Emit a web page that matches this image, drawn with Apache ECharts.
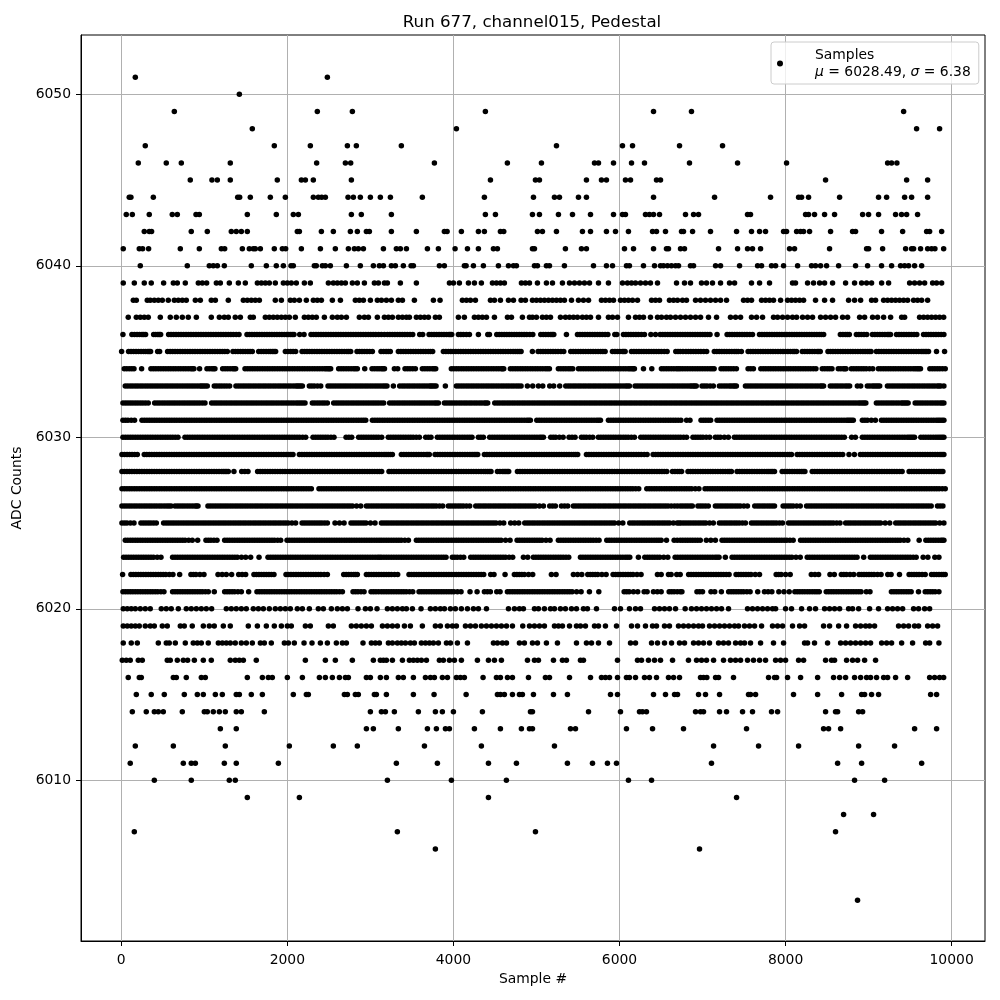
<!DOCTYPE html>
<html><head><meta charset="utf-8">
<script src="https://cdn.jsdelivr.net/npm/echarts@6/dist/echarts.min.js"></script>
<style>html,body{margin:0;padding:0;background:#fff}#c{width:1000px;height:1000px}</style>
</head><body><div id="c"></div>
<script>
const tickX = [0,2000,4000,6000,8000,10000];
const tickY = [6010,6020,6030,6040,6050];
const a6051=[169,2482];
const a6050=[1422];
const a6049=[639,2361,2783,4385,6410,6867,9422];
const a6048=[1578,4036,9578,9855];
const a6047=[289,1843,2277,2723,2831,3373,5241,6036,6157,6723,7241];
const a6046=[205,542,723,1313,2353,2699,2763,3771,4650,5060,5699,5747,5928,6145,6301,6843,7422,8012,9229,9277,9341];
const a6045=[831,1092,1157,1313,1879,2169,2217,2313,2771,4446,4988,5036,5602,5783,5843,6072,6133,6446,6494,8482,9458,9711];
const a6044=[96,116,386,1402,1426,1554,1795,1976,2313,2373,2414,2458,2731,2795,2879,3000,3120,3241,3626,4373,4964,5217,5277,5506,5602,6410,7145,7819,8157,8193,8277,8651,9120,9217,9434,9518,9711];
const a6043=[60,133,337,614,675,900,940,1518,1867,2072,2133,2771,2891,3253,4385,4506,4952,5036,5265,5434,5651,5928,6036,6072,6313,6361,6410,6482,6795,6892,6952,7542,7578,8241,8277,8349,8470,8590,8928,9000,9120,9325,9397,9458,9590];
const a6042=[277,337,365,843,1036,1325,1385,1446,1518,2120,2145,2410,2554,2759,2843,2952,2988,3253,3554,3891,3924,4096,4301,4373,4566,4606,5012,5072,5241,5554,5651,5843,5952,6108,6398,6446,6554,6747,6771,6880,7096,7410,7590,7687,7759,7976,8012,8133,8181,8217,8289,8542,8807,8843,9156,9410,9699,9735,9880];
const a6041=[24,217,257,329,711,940,1205,1245,1458,1542,1590,1614,1675,1843,1940,1980,2169,2398,2578,2735,2807,2855,2916,3157,3313,3361,3434,3687,3819,4020,4169,4301,4482,4530,4952,4976,5349,5542,5602,6060,6169,6410,6566,6590,6735,6783,7193,7422,7542,7602,7699,8048,8108,8530,8976,9000,9169,9446,9518,9542,9626,9711,9759,9799,9904];
const a6040=[229,795,1060,1108,1157,1241,1566,1747,1867,1952,2044,2072,2325,2349,2422,2458,2518,2711,2879,3036,3108,3157,3253,3301,3397,3490,3518,3831,3891,4132,4153,4241,4361,4542,4663,4723,4759,4976,5012,5120,5157,5337,5687,5843,5916,6084,6120,6289,6422,6494,6530,6578,6626,6675,6711,6855,6892,7157,7217,7446,7663,7711,7831,7880,7976,8145,8313,8361,8422,8494,8639,8843,8988,9156,9277,9385,9434,9482,9554,9639];
const a6039=[24,157,277,361,510,627,675,771,928,976,1028,1145,1193,1301,1410,1494,1639,1687,1735,1783,1855,1952,2000,2048,2108,2205,2277,2494,2554,2602,2651,2699,2783,2843,2928,3048,3096,3169,3205,3361,3554,3952,4000,4072,4181,4253,4337,4470,4518,4566,4614,4819,4867,4916,5012,5120,5193,5313,5398,5458,5518,5578,5639,5747,5867,6036,6096,6145,6193,6253,6313,6373,6458,6687,6783,6855,6988,7048,7120,7217,7325,7386,7590,7687,7807,8084,8120,8265,8337,8410,8470,8566,8723,8831,8916,8976,9036,9157,9241,9494,9554,9614,9675,9771,9819,9880];
const a6038=[145,181,313,349,398,446,494,566,639,687,735,783,892,952,1084,1133,1289,1470,1518,1566,1614,1663,1855,1928,2036,2084,2145,2229,2313,2361,2410,2542,2639,2819,2867,2916,3000,3084,3133,3193,3253,3337,3386,3530,3759,3839,4108,4157,4205,4265,4446,4494,4566,4663,4723,4815,4867,4952,5000,5048,5096,5145,5193,5241,5289,5337,5422,5506,5566,5627,5783,5831,5880,5928,6012,6060,6108,6157,6217,6386,6434,6482,6602,6651,6699,6759,6807,6916,6976,7036,7096,7157,7217,7289,7494,7542,7590,7711,7759,7807,7855,7940,8024,8072,8120,8169,8217,8361,8470,8566,8759,8831,8904,9036,9084,9181,9229,9277,9325,9373,9422,9470,9542,9590,9639,9711];
const a6037=[84,181,229,277,325,470,590,663,735,807,904,1084,1181,1241,1289,1373,1434,1554,1590,1735,1783,1831,1879,1928,1976,2024,2096,2205,2253,2301,2349,2446,2542,2602,2651,2711,2867,2928,2976,3084,3169,3217,3265,3337,3386,3434,3470,3554,3602,3651,3699,3783,3831,4060,4132,4253,4301,4349,4398,4494,4651,4699,4831,4916,4952,5000,5072,5120,5169,5289,5349,5398,5446,5494,5554,5602,5651,5747,5867,5916,5976,6108,6193,6241,6289,6373,6458,6506,6566,6614,6675,6735,6795,6855,6916,6976,7072,7169,7337,7398,7458,7590,7651,7723,7855,7904,7964,8024,8084,8133,8205,8265,8325,8422,8482,8542,8602,8687,8747,8892,8952,9048,9108,9181,9265,9398,9434,9614,9663,9711,9759,9807,9855,9904];
const a6036=[20,128,159,190,220,250,271,293,390,415,440,457,474,570,600,630,660,690,720,750,780,810,840,870,900,930,960,990,1020,1050,1080,1110,1140,1170,1200,1230,1260,1290,1320,1350,1384,1418,1514,1544,1574,1604,1634,1664,1694,1724,1754,1784,1814,1844,1874,1904,1934,1964,1994,2017,2040,2060,2080,2149,2201,2285,2315,2345,2375,2405,2435,2465,2495,2525,2555,2585,2615,2645,2675,2705,2735,2765,2795,2825,2855,2885,2915,2945,2975,3005,3035,3065,3099,3133,3169,3205,3235,3265,3295,3325,3355,3385,3415,3445,3477,3510,3594,3630,3707,3737,3767,3797,3827,3857,3887,3917,3947,3963,3980,4060,4090,4120,4156,4193,4301,4414,4434,4522,4552,4582,4612,4642,4672,4702,4732,4762,4792,4822,4852,4882,4919,4956,5052,5082,5112,5142,5172,5190,5209,5361,5494,5524,5554,5584,5614,5644,5674,5704,5734,5764,5794,5827,5860,5944,5968,6048,6078,6108,6138,6168,6198,6228,6264,6301,6378,6434,6490,6520,6550,6580,6610,6640,6670,6700,6731,6761,6791,6821,6851,6881,6911,6941,6971,7001,7031,7060,7090,7175,7296,7326,7356,7386,7416,7446,7476,7506,7536,7569,7602,7686,7716,7746,7776,7806,7836,7866,7896,7926,7956,7986,8016,8046,8076,8106,8136,8166,8196,8226,8256,8286,8316,8346,8376,8406,8432,8459,8660,8690,8720,8744,8768,8853,8883,8913,8945,8978,9046,9076,9106,9136,9166,9196,9226,9245,9264,9336,9366,9396,9426,9456,9486,9516,9548,9581,9662,9692,9722,9752,9782,9812,9842,9874,9907];
const a6035=[4,88,118,148,178,208,238,268,294,320,336,353,438,462,558,588,618,648,678,708,738,768,798,828,858,888,918,948,978,1008,1038,1068,1098,1128,1158,1188,1218,1247,1277,1345,1375,1405,1435,1465,1495,1525,1551,1578,1655,1685,1715,1745,1775,1797,1820,1840,1859,1976,2008,2040,2070,2100,2177,2207,2237,2267,2297,2327,2357,2387,2417,2447,2477,2507,2537,2567,2597,2627,2657,2687,2717,2740,2763,2839,2869,2899,2929,2959,2991,3024,3128,3159,3190,3215,3240,3337,3367,3397,3427,3457,3487,3517,3547,3577,3607,3637,3667,3697,3723,3750,3879,3909,3939,3969,3999,4029,4059,4089,4119,4149,4179,4209,4239,4269,4299,4329,4359,4389,4419,4449,4479,4509,4539,4569,4599,4629,4659,4689,4719,4745,4770,4792,4815,4951,5020,5050,5080,5110,5140,5170,5200,5230,5260,5295,5329,5413,5443,5473,5503,5533,5563,5593,5623,5653,5683,5713,5743,5773,5800,5827,5915,5945,5975,6005,6035,6052,6068,6144,6174,6204,6234,6264,6294,6324,6354,6384,6414,6444,6474,6504,6539,6574,6678,6705,6731,6765,6800,6830,6860,6890,6920,6950,6980,7015,7050,7142,7172,7202,7232,7262,7292,7322,7352,7382,7406,7430,7468,7549,7579,7609,7639,7669,7699,7729,7759,7789,7819,7849,7879,7909,7939,7969,7999,8029,8059,8089,8110,8132,8201,8231,8261,8291,8321,8351,8381,8400,8418,8511,8541,8571,8601,8631,8661,8691,8721,8751,8781,8811,8841,8871,8901,8931,8958,8985,9008,9030,9094,9124,9154,9184,9214,9244,9274,9304,9334,9364,9394,9424,9454,9484,9514,9544,9574,9604,9634,9657,9680,9700,9722,9818,9915];
const a6034=[36,66,96,125,153,245,357,387,417,447,477,507,537,567,597,627,657,687,717,747,777,807,837,856,875,943,1032,1061,1090,1110,1128,1221,1251,1281,1311,1341,1360,1378,1490,1520,1550,1580,1610,1640,1670,1700,1730,1760,1790,1820,1850,1880,1910,1940,1970,2000,2030,2060,2090,2120,2150,2180,2210,2240,2270,2300,2330,2360,2390,2420,2450,2470,2490,2506,2522,2618,2648,2678,2708,2738,2768,2798,2820,2843,2932,3020,3050,3080,3106,3133,3151,3170,3289,3329,3417,3447,3477,3510,3542,3626,3656,3686,3716,3746,3767,3787,3975,4005,4035,4065,4095,4125,4155,4185,4215,4245,4275,4305,4335,4365,4395,4425,4455,4485,4515,4545,4575,4590,4606,4686,4716,4746,4776,4806,4836,4866,4896,4926,4956,4986,5016,5046,5076,5106,5131,5156,5264,5294,5324,5354,5384,5410,5437,5506,5536,5566,5596,5626,5656,5686,5716,5746,5776,5806,5836,5866,5896,5926,5956,5986,6016,6046,6076,6106,6128,6150,6165,6180,6289,6389,6505,6535,6565,6595,6625,6655,6685,6708,6731,6760,6790,6820,6850,6880,6910,6940,6970,7000,7030,7060,7090,7115,7140,7223,7253,7283,7313,7343,7375,7408,7549,7581,7613,7702,7732,7762,7792,7822,7852,7882,7912,7942,7972,8002,8032,8062,8092,8122,8152,8182,8212,8242,8272,8302,8334,8366,8442,8472,8502,8530,8559,8635,8665,8695,8712,8728,8792,8822,8852,8882,8912,8942,8972,9011,9050,9118,9148,9178,9208,9238,9268,9298,9328,9358,9388,9418,9448,9478,9508,9538,9562,9585,9605,9625,9738,9768,9798,9828,9858,9890,9923];
const a6033=[48,78,108,138,168,198,228,258,288,318,348,378,408,438,468,498,528,558,588,618,648,678,708,738,768,798,828,858,888,918,948,969,990,1013,1036,1120,1150,1180,1210,1240,1272,1305,1381,1411,1441,1471,1501,1531,1561,1591,1621,1651,1681,1711,1741,1771,1801,1831,1861,1891,1921,1951,1981,2011,2041,2071,2101,2120,2140,2160,2181,2265,2295,2325,2363,2402,2490,2520,2550,2580,2610,2640,2670,2700,2730,2760,2790,2820,2850,2880,2910,2940,2970,3000,3030,3060,3090,3120,3150,3175,3200,3277,3353,3383,3413,3443,3473,3503,3533,3563,3593,3623,3653,3683,3713,3731,3750,3770,3791,3903,4036,4066,4096,4126,4156,4186,4216,4246,4276,4306,4336,4366,4396,4426,4456,4486,4516,4546,4576,4606,4636,4666,4696,4726,4756,4785,4815,4891,4955,5024,5076,5160,5208,5280,5353,5383,5413,5443,5473,5503,5533,5563,5593,5623,5653,5683,5713,5743,5773,5803,5833,5863,5893,5923,5953,5983,6013,6043,6073,6096,6120,6188,6218,6248,6278,6308,6338,6368,6398,6428,6458,6488,6518,6548,6578,6608,6638,6668,6698,6728,6758,6788,6818,6848,6869,6890,6907,6925,6994,7024,7054,7092,7130,7203,7233,7263,7293,7323,7346,7370,7389,7408,7517,7547,7577,7607,7637,7667,7697,7727,7757,7787,7817,7847,7877,7907,7937,7967,7997,8027,8057,8087,8117,8147,8177,8207,8237,8267,8297,8327,8357,8387,8417,8437,8458,8539,8569,8599,8629,8659,8689,8719,8745,8772,8865,8905,8985,9015,9045,9067,9090,9112,9134,9227,9257,9287,9317,9347,9377,9407,9437,9467,9497,9527,9557,9587,9617,9647,9677,9707,9737,9767,9797,9827,9848,9870,9907];
const a6032=[20,50,80,110,140,170,200,230,260,292,325,402,432,462,492,522,552,582,612,642,672,702,732,762,792,822,852,882,912,942,975,1008,1088,1118,1148,1178,1208,1238,1268,1298,1328,1358,1388,1418,1448,1478,1508,1538,1568,1598,1628,1658,1688,1718,1748,1778,1808,1838,1868,1898,1928,1958,1988,2018,2048,2078,2108,2134,2160,2186,2213,2301,2331,2361,2391,2421,2451,2482,2558,2588,2618,2648,2678,2708,2738,2768,2798,2828,2858,2888,2918,2948,2978,3008,3038,3068,3098,3129,3160,3232,3262,3292,3322,3352,3382,3412,3442,3472,3502,3532,3562,3592,3622,3652,3682,3712,3742,3772,3795,3819,3891,3921,3951,3981,4011,4041,4071,4101,4131,4161,4191,4221,4251,4281,4311,4341,4371,4392,4413,4498,4528,4558,4588,4618,4648,4678,4708,4738,4768,4798,4828,4858,4888,4918,4948,4978,5008,5038,5068,5098,5128,5158,5188,5218,5248,5278,5308,5338,5368,5398,5428,5458,5488,5518,5548,5578,5608,5638,5668,5698,5728,5758,5788,5818,5848,5878,5908,5938,5968,5998,6028,6058,6088,6118,6148,6178,6208,6238,6268,6298,6328,6358,6388,6418,6448,6478,6508,6538,6568,6598,6628,6658,6688,6718,6748,6778,6808,6838,6868,6898,6928,6958,6988,7018,7048,7078,7108,7138,7168,7198,7228,7258,7288,7318,7348,7378,7408,7438,7468,7498,7528,7558,7588,7618,7648,7678,7708,7738,7768,7798,7828,7858,7888,7918,7948,7978,8008,8038,8068,8098,8128,8158,8188,8218,8248,8278,8308,8338,8368,8398,8428,8458,8488,8518,8548,8578,8608,8638,8668,8698,8728,8758,8788,8818,8848,8878,8901,8925,8946,8967,9094,9124,9154,9184,9214,9244,9274,9304,9334,9364,9394,9414,9435,9455,9476,9561,9591,9621,9651,9681,9711,9741,9771,9801,9831,9861,9884,9907];
const a6031=[20,50,80,120,160,249,279,309,339,369,399,429,459,489,519,549,579,609,639,669,699,729,759,789,819,849,879,909,939,969,999,1029,1059,1089,1119,1149,1179,1209,1239,1269,1299,1329,1359,1389,1419,1449,1479,1509,1539,1569,1599,1629,1659,1689,1719,1749,1779,1809,1839,1869,1899,1929,1959,1989,2019,2049,2079,2109,2139,2169,2199,2229,2259,2289,2319,2349,2379,2409,2439,2469,2499,2529,2559,2589,2619,2649,2679,2709,2739,2769,2799,2829,2859,2889,2917,2944,3024,3054,3084,3114,3144,3174,3204,3234,3264,3294,3324,3354,3384,3414,3444,3474,3504,3534,3564,3594,3624,3654,3684,3714,3744,3774,3804,3834,3864,3894,3924,3954,3984,4014,4044,4074,4104,4134,4164,4194,4224,4254,4284,4314,4344,4374,4404,4434,4464,4494,4524,4554,4584,4614,4644,4674,4704,4734,4764,4794,4824,4854,4884,4906,4927,5004,5034,5064,5094,5124,5154,5184,5214,5244,5274,5304,5334,5364,5394,5424,5454,5484,5514,5544,5574,5604,5634,5664,5694,5724,5748,5771,5867,5897,5927,5957,5987,6017,6047,6077,6107,6137,6167,6197,6227,6257,6287,6317,6347,6377,6407,6437,6467,6497,6527,6557,6587,6617,6647,6677,6707,6740,6808,6849,6982,7011,7040,7069,7098,7175,7205,7235,7265,7295,7325,7355,7385,7415,7445,7475,7505,7535,7565,7595,7625,7655,7685,7715,7745,7775,7805,7835,7865,7895,7925,7955,7985,8015,8045,8075,8105,8135,8165,8195,8225,8255,8285,8315,8345,8375,8405,8435,8465,8495,8525,8555,8585,8615,8645,8675,8705,8735,8755,8775,8795,8816,8925,8955,8985,9033,9082,9155,9185,9215,9245,9275,9305,9335,9365,9395,9425,9455,9485,9515,9545,9575,9605,9635,9665,9695,9725,9755,9785,9815,9838,9860,9884,9907];
const a6030=[20,50,80,110,140,170,200,230,260,290,320,350,380,410,440,470,500,530,560,590,620,651,683,767,797,827,857,887,917,947,977,1007,1037,1067,1097,1127,1157,1187,1217,1247,1277,1307,1337,1367,1397,1427,1457,1487,1517,1547,1577,1607,1637,1667,1697,1727,1757,1787,1817,1847,1877,1907,1937,1967,1997,2027,2057,2087,2117,2147,2184,2221,2309,2339,2369,2399,2429,2459,2489,2525,2562,2707,2741,2775,2859,2889,2919,2949,2979,3009,3039,3069,3099,3136,3216,3246,3276,3306,3336,3366,3396,3426,3456,3486,3516,3553,3590,3666,3698,3730,3807,3837,3867,3897,3927,3957,3987,4017,4047,4077,4107,4137,4167,4196,4224,4301,4331,4361,4437,4467,4497,4527,4557,4587,4617,4647,4677,4707,4737,4767,4797,4827,4857,4887,4917,4947,4977,5007,5037,5060,5084,5172,5202,5232,5276,5321,5393,5429,5465,5542,5572,5602,5640,5678,5746,5776,5806,5836,5866,5896,5926,5956,5986,6016,6046,6076,6106,6143,6180,6256,6286,6316,6346,6376,6406,6436,6466,6496,6526,6556,6586,6616,6646,6676,6706,6736,6772,6808,6885,6915,6945,6975,7005,7045,7086,7155,7185,7215,7263,7311,7384,7414,7444,7474,7504,7534,7564,7594,7624,7654,7684,7714,7744,7774,7804,7834,7864,7894,7924,7954,7984,8014,8044,8074,8104,8134,8164,8194,8224,8254,8284,8314,8344,8374,8404,8434,8464,8494,8524,8554,8584,8614,8644,8676,8708,8796,8841,8925,8955,8985,9015,9045,9075,9105,9135,9165,9195,9225,9255,9285,9315,9345,9375,9405,9435,9465,9488,9510,9532,9553,9629,9659,9689,9719,9749,9779,9809,9835,9860,9884,9907];
const a6029=[8,39,70,100,130,161,193,277,307,337,367,397,427,457,487,517,547,577,607,637,667,697,727,757,787,817,847,877,907,937,967,997,1027,1057,1087,1117,1147,1177,1207,1237,1267,1297,1327,1357,1387,1417,1447,1477,1507,1537,1567,1597,1627,1657,1687,1717,1747,1777,1807,1837,1867,1897,1927,1957,1987,2017,2043,2068,2145,2175,2205,2235,2265,2295,2325,2355,2385,2415,2445,2475,2505,2535,2565,2595,2625,2655,2685,2715,2745,2775,2805,2835,2865,2895,2925,2955,2985,3015,3045,3075,3105,3135,3165,3190,3215,3240,3265,3373,3403,3433,3463,3493,3523,3553,3583,3613,3643,3673,3692,3710,3779,3809,3839,3869,3899,3929,3959,3989,4019,4049,4079,4109,4139,4169,4199,4225,4250,4272,4293,4373,4403,4433,4463,4493,4523,4553,4583,4613,4643,4673,4703,4733,4763,4793,4823,4853,4883,4913,4943,4973,5003,5033,5063,5093,5123,5153,5183,5213,5243,5273,5303,5333,5363,5393,5422,5450,5474,5497,5602,5632,5662,5692,5722,5752,5782,5812,5842,5872,5902,5932,5962,5992,6022,6052,6082,6112,6142,6172,6202,6232,6262,6298,6333,6405,6435,6465,6495,6525,6555,6585,6615,6645,6675,6705,6735,6765,6795,6825,6855,6885,6915,6945,6975,7005,7035,7065,7095,7125,7155,7185,7215,7245,7275,7305,7335,7365,7395,7425,7455,7485,7515,7545,7575,7605,7635,7665,7695,7725,7755,7785,7815,7845,7875,7905,7935,7965,7995,8025,8049,8072,8140,8170,8200,8230,8260,8290,8320,8350,8380,8410,8440,8470,8500,8530,8560,8590,8620,8654,8688,8764,8829,8901,8931,8961,8991,9021,9051,9081,9111,9141,9171,9201,9231,9261,9291,9321,9351,9381,9411,9441,9471,9501,9531,9561,9591,9621,9651,9681,9711,9741,9771,9801,9831,9861,9884,9907];
const a6028=[8,38,68,98,128,158,188,218,248,278,308,338,368,398,428,458,488,518,548,578,608,638,668,698,728,758,788,818,848,878,908,938,968,998,1028,1058,1088,1118,1148,1178,1208,1229,1250,1270,1289,1357,1450,1488,1526,1642,1672,1702,1732,1762,1792,1822,1852,1882,1912,1942,1972,2002,2032,2062,2092,2122,2152,2182,2212,2242,2272,2302,2332,2362,2392,2422,2452,2482,2512,2542,2572,2602,2632,2662,2692,2722,2752,2782,2812,2842,2872,2902,2932,2962,2992,3022,3052,3082,3109,3136,3224,3254,3284,3314,3344,3374,3404,3434,3464,3494,3524,3554,3584,3614,3644,3674,3704,3734,3764,3794,3824,3854,3884,3914,3944,3974,4004,4034,4064,4094,4124,4154,4184,4214,4244,4274,4304,4334,4364,4387,4410,4432,4453,4530,4560,4590,4610,4630,4648,4666,4771,4801,4831,4861,4891,4921,4951,4981,5011,5041,5071,5101,5131,5161,5191,5221,5251,5281,5311,5341,5371,5401,5431,5461,5491,5521,5551,5581,5611,5641,5671,5701,5731,5761,5791,5821,5851,5881,5911,5941,5971,6001,6031,6061,6091,6121,6151,6181,6211,6241,6271,6301,6331,6361,6391,6421,6451,6481,6511,6540,6570,6638,6668,6698,6723,6748,6825,6855,6885,6915,6945,6975,7005,7035,7065,7095,7125,7155,7185,7215,7245,7275,7305,7327,7348,7416,7446,7476,7506,7536,7566,7596,7626,7656,7686,7716,7746,7776,7800,7825,7846,7867,7959,7989,8019,8049,8079,8109,8139,8165,8190,8212,8233,8321,8351,8381,8411,8441,8471,8501,8531,8561,8591,8621,8651,8681,8711,8741,8771,8801,8831,8861,8891,8921,8951,8981,9011,9041,9071,9101,9131,9161,9191,9221,9251,9281,9311,9341,9373,9404,9488,9518,9548,9578,9608,9638,9668,9698,9728,9758,9788,9818,9848,9872,9895];
const a6027=[8,38,68,98,128,158,188,218,248,278,308,338,368,398,428,458,488,518,548,578,608,638,668,698,728,758,788,818,848,878,908,938,968,998,1028,1058,1088,1118,1148,1178,1208,1238,1268,1298,1328,1358,1388,1418,1448,1478,1508,1538,1568,1598,1628,1658,1688,1718,1748,1778,1808,1838,1868,1898,1928,1958,1988,2018,2048,2078,2108,2138,2168,2198,2228,2259,2289,2381,2411,2441,2471,2501,2531,2561,2591,2621,2651,2681,2711,2741,2771,2801,2831,2861,2891,2921,2951,2981,3011,3041,3071,3101,3131,3161,3191,3221,3251,3281,3311,3341,3371,3401,3431,3461,3491,3521,3551,3581,3611,3641,3671,3701,3731,3761,3791,3821,3851,3881,3911,3941,3971,4001,4031,4061,4091,4121,4151,4181,4211,4241,4271,4301,4331,4361,4391,4421,4451,4481,4511,4541,4571,4601,4631,4661,4691,4721,4751,4781,4811,4841,4871,4901,4931,4961,4991,5021,5051,5081,5111,5141,5171,5201,5231,5261,5291,5321,5351,5381,5411,5441,5471,5501,5531,5561,5591,5621,5651,5681,5711,5741,5771,5801,5831,5861,5891,5921,5951,5981,6011,6041,6071,6101,6131,6161,6196,6232,6329,6359,6389,6419,6449,6479,6509,6539,6569,6599,6629,6659,6689,6719,6749,6779,6809,6839,6869,6913,6957,7030,7060,7090,7120,7150,7180,7210,7240,7270,7300,7330,7360,7390,7420,7450,7480,7510,7540,7570,7600,7630,7660,7690,7720,7750,7780,7810,7840,7870,7900,7930,7960,7990,8020,8050,8080,8110,8140,8170,8200,8230,8260,8290,8320,8350,8380,8410,8440,8470,8500,8530,8560,8590,8620,8650,8680,8710,8740,8770,8800,8830,8860,8890,8920,8950,8980,9010,9040,9070,9100,9130,9160,9190,9220,9250,9280,9310,9340,9370,9400,9430,9460,9490,9520,9550,9580,9610,9640,9670,9700,9730,9760,9790,9820,9850,9887,9923];
const a6026=[8,38,68,98,128,158,188,218,248,278,308,338,368,398,428,458,488,518,548,574,600,647,677,707,737,767,797,827,857,887,906,924,1044,1074,1104,1134,1164,1194,1224,1254,1284,1314,1344,1374,1404,1434,1464,1494,1524,1554,1584,1614,1644,1674,1704,1734,1764,1794,1824,1854,1884,1914,1944,1974,2004,2034,2064,2094,2124,2154,2184,2214,2244,2274,2304,2334,2364,2394,2424,2454,2484,2514,2544,2574,2604,2634,2664,2694,2724,2754,2784,2834,2884,2952,2982,3012,3042,3072,3102,3133,3163,3193,3223,3253,3283,3313,3343,3373,3403,3433,3463,3493,3523,3553,3583,3613,3643,3673,3703,3733,3763,3793,3832,3871,3939,3969,3999,4029,4059,4089,4119,4157,4196,4269,4299,4329,4359,4389,4419,4449,4479,4509,4539,4569,4599,4629,4659,4689,4719,4749,4779,4809,4839,4869,4899,4929,4959,4989,5036,5084,5160,5194,5228,5301,5339,5377,5445,5475,5505,5535,5565,5595,5625,5655,5685,5715,5745,5775,5805,5835,5865,5895,5925,5955,5985,6015,6045,6075,6105,6135,6165,6195,6225,6255,6285,6315,6345,6375,6405,6435,6465,6495,6525,6555,6585,6623,6662,6696,6731,6761,6791,6821,6851,6877,6945,6975,7005,7037,7070,7155,7185,7215,7245,7275,7305,7335,7365,7395,7425,7455,7498,7541,7629,7659,7689,7719,7749,7779,7809,7838,7867,7971,8001,8031,8061,8091,8134,8177,8253,8283,8313,8343,8373,8403,8433,8463,8493,8523,8553,8583,8613,8643,8673,8703,8733,8763,8793,8823,8853,8883,8913,8943,8973,9003,9033,9063,9093,9123,9153,9183,9213,9243,9273,9303,9333,9363,9393,9423,9453,9483,9513,9543,9573,9603,9633,9663,9693,9723,9754,9830,9862,9895];
const a6025=[8,38,68,110,153,237,267,297,327,357,390,422,510,540,570,600,630,660,690,720,750,780,810,840,870,900,930,960,990,1020,1050,1080,1110,1140,1170,1200,1230,1260,1290,1320,1350,1380,1410,1440,1470,1500,1530,1560,1590,1620,1650,1680,1710,1740,1770,1800,1830,1860,1890,1920,1950,1980,2010,2055,2100,2177,2207,2237,2267,2297,2327,2357,2387,2417,2450,2482,2574,2628,2683,2767,2797,2827,2857,2887,2917,2947,3001,3056,3133,3163,3193,3223,3253,3283,3313,3343,3373,3403,3433,3463,3493,3523,3553,3583,3613,3643,3673,3703,3733,3763,3793,3823,3853,3883,3913,3943,3973,4003,4033,4063,4093,4123,4153,4183,4213,4243,4273,4303,4333,4363,4393,4423,4453,4483,4513,4560,4606,4690,4738,4787,4859,4889,4919,4949,4979,5009,5039,5069,5099,5129,5159,5189,5219,5249,5279,5309,5339,5369,5399,5429,5459,5489,5519,5549,5579,5609,5639,5669,5699,5729,5759,5789,5819,5849,5879,5909,5939,5990,6040,6124,6154,6184,6214,6244,6274,6304,6334,6364,6394,6424,6454,6484,6514,6544,6574,6604,6649,6694,6717,6740,6770,6800,6830,6860,6890,6920,6950,6980,7010,7040,7085,7130,7203,7233,7263,7293,7323,7353,7383,7413,7443,7480,7517,7589,7619,7649,7679,7709,7739,7769,7799,7829,7859,7889,7926,7963,8036,8066,8096,8126,8156,8186,8216,8246,8276,8306,8336,8366,8396,8426,8456,8486,8516,8546,8576,8616,8656,8724,8754,8784,8814,8844,8874,8904,8934,8964,8994,9024,9054,9084,9114,9144,9200,9255,9327,9357,9387,9417,9447,9477,9507,9537,9567,9597,9627,9657,9687,9717,9747,9777,9807,9857,9907];
const a6024=[48,78,108,138,168,198,228,258,288,318,348,378,408,438,468,498,528,558,588,618,648,678,708,738,768,812,855,920,1020,1050,1080,1116,1153,1245,1275,1305,1335,1365,1395,1425,1455,1485,1515,1545,1575,1605,1635,1665,1695,1725,1755,1785,1815,1845,1883,1920,1996,2026,2056,2086,2116,2146,2176,2206,2236,2266,2296,2326,2356,2386,2416,2446,2476,2506,2536,2566,2596,2626,2656,2686,2716,2746,2776,2806,2836,2866,2896,2926,2956,2986,3016,3046,3076,3105,3133,3163,3193,3223,3253,3283,3313,3343,3373,3415,3458,3554,3584,3614,3644,3674,3704,3734,3764,3794,3824,3854,3884,3914,3944,3974,4004,4034,4064,4094,4124,4154,4184,4214,4244,4274,4304,4334,4364,4394,4424,4454,4484,4514,4544,4574,4628,4682,4767,4797,4827,4857,4887,4917,4947,4977,5007,5037,5067,5115,5164,5264,5294,5324,5354,5384,5414,5444,5474,5504,5534,5564,5594,5624,5654,5684,5719,5754,5847,5877,5907,5937,5967,5997,6027,6057,6087,6117,6147,6177,6207,6237,6267,6297,6327,6357,6387,6417,6447,6475,6502,6566,6658,6695,6731,6761,6791,6821,6851,6881,6911,6942,6973,7046,7100,7155,7235,7265,7295,7325,7355,7385,7415,7445,7475,7505,7535,7565,7595,7625,7655,7685,7715,7745,7775,7805,7835,7865,7895,7925,7955,7985,8015,8053,8092,8181,8211,8241,8271,8301,8331,8361,8391,8421,8451,8481,8511,8541,8571,8601,8631,8661,8691,8721,8751,8781,8811,8841,8871,8901,8931,8961,8991,9021,9051,9081,9111,9141,9171,9201,9231,9261,9291,9321,9351,9381,9426,9472,9609,9690,9720,9750,9780,9810,9840,9870,9888,9907];
const a6023=[28,58,88,118,148,178,208,238,268,298,328,358,388,433,478,618,648,678,708,738,768,798,828,858,888,918,948,978,1008,1038,1068,1098,1128,1158,1188,1218,1248,1278,1308,1338,1368,1398,1448,1498,1558,1659,1767,1797,1827,1857,1887,1917,1947,1977,2007,2037,2067,2097,2127,2157,2187,2217,2247,2277,2307,2337,2367,2397,2427,2457,2487,2517,2547,2577,2607,2637,2667,2697,2727,2757,2787,2817,2847,2877,2907,2937,2967,2997,3027,3057,3087,3110,3133,3163,3193,3223,3253,3283,3313,3343,3373,3403,3433,3463,3493,3523,3553,3583,3613,3643,3673,3703,3733,3763,3793,3823,3853,3882,3911,3987,4017,4047,4085,4124,4208,4238,4268,4298,4328,4358,4388,4418,4448,4478,4508,4538,4568,4598,4628,4671,4714,4843,4895,4963,4993,5023,5053,5083,5113,5143,5173,5203,5233,5263,5293,5323,5356,5389,5530,5560,5590,5620,5650,5680,5710,5740,5770,5800,5830,5860,5890,5920,5950,5980,6010,6040,6070,6097,6124,6228,6305,6335,6365,6395,6425,6455,6485,6533,6582,6670,6700,6731,6761,6791,6821,6851,6881,6911,6941,6971,7001,7031,7061,7091,7121,7151,7175,7199,7275,7356,7386,7416,7446,7476,7506,7536,7566,7596,7626,7656,7686,7716,7746,7776,7806,7836,7866,7896,7926,7956,7986,8016,8046,8076,8126,8177,8261,8291,8321,8351,8381,8411,8441,8471,8501,8531,8561,8591,8621,8651,8681,8711,8741,8771,8801,8831,8861,8941,9022,9052,9082,9112,9142,9172,9202,9232,9262,9292,9322,9352,9382,9412,9442,9472,9502,9537,9573,9657,9714,9798,9847];
const a6022=[16,116,146,176,206,236,266,296,326,356,386,416,446,476,506,536,579,622,703,839,869,899,947,996,1165,1215,1265,1329,1414,1456,1498,1598,1628,1658,1688,1718,1748,1778,1808,1839,1984,2014,2044,2074,2104,2134,2164,2194,2224,2254,2284,2314,2344,2374,2404,2443,2482,2679,2709,2739,2769,2799,2821,2843,2952,2982,3012,3042,3072,3102,3133,3163,3193,3223,3253,3291,3329,3465,3495,3525,3555,3585,3615,3645,3675,3705,3735,3765,3795,3825,3855,3885,3915,3945,3975,4005,4035,4065,4095,4125,4155,4185,4215,4245,4275,4305,4335,4365,4449,4489,4622,4734,4764,4794,4824,4854,4905,4955,5180,5236,5445,5495,5546,5618,5648,5678,5708,5738,5788,5839,5923,5953,5983,6013,6043,6073,6103,6133,6163,6211,6260,6457,6502,6590,6622,6690,6731,6833,6863,6893,6923,6953,6983,7013,7043,7073,7103,7133,7163,7193,7223,7253,7286,7320,7404,7434,7464,7494,7524,7554,7584,7635,7686,7887,7917,7947,8001,8056,8310,8354,8398,8535,8587,8672,8702,8732,8776,8821,8885,8915,8945,8975,9005,9035,9065,9107,9150,9231,9271,9372,9488,9518,9548,9578,9608,9645,9682,9758,9788,9818,9848,9878,9900,9923];
const a6021=[20,50,80,110,140,170,200,230,260,290,320,350,380,410,440,477,514,618,648,678,708,738,768,798,828,858,888,918,948,978,1013,1048,1120,1245,1275,1305,1335,1365,1405,1446,1534,1634,1664,1694,1724,1754,1784,1814,1844,1874,1904,1934,1964,1994,2024,2054,2084,2114,2144,2174,2204,2234,2264,2294,2324,2354,2384,2414,2444,2474,2504,2534,2564,2594,2628,2663,2791,2821,2851,2887,2924,3008,3038,3068,3100,3133,3163,3193,3223,3253,3283,3313,3343,3373,3403,3433,3471,3510,3586,3616,3646,3676,3706,3736,3766,3796,3826,3856,3886,3916,3946,3976,4006,4049,4092,4200,4285,4373,4409,4445,4522,4562,4650,4680,4710,4740,4770,4800,4830,4860,4890,4920,4950,4980,5010,5040,5070,5100,5130,5160,5190,5220,5250,5280,5310,5340,5370,5400,5430,5484,5538,5638,5751,6056,6086,6116,6168,6220,6297,6333,6409,6456,6502,6598,6628,6658,6695,6731,6752,6933,6966,7000,7102,7147,7227,7315,7345,7375,7405,7435,7465,7495,7534,7573,7665,7746,7790,7835,7919,7981,8044,8112,8142,8172,8202,8232,8262,8292,8322,8352,8379,8406,8490,8520,8550,8580,8610,8640,8670,8700,8730,8760,8790,8820,8850,8880,8909,8973,9017,9275,9305,9335,9365,9395,9425,9455,9484,9513,9601,9682,9712,9742,9772,9802,9847];
const a6020=[24,72,120,169,229,289,349,482,542,602,687,783,843,904,964,1024,1088,1265,1325,1385,1446,1506,1590,1651,1711,1783,1855,1916,1976,2036,2120,2181,2265,2373,2434,2530,2602,2663,2723,2851,2940,3000,3080,3205,3265,3325,3386,3434,3506,3610,3723,3783,3843,3892,3964,4024,4096,4169,4241,4301,4398,4663,4735,4795,4843,4976,5024,5096,5169,5217,5289,5349,5422,5482,5566,5614,5723,5940,6012,6120,6193,6253,6422,6482,6542,6602,6675,6791,6867,6928,6988,7048,7108,7169,7229,7313,7542,7602,7663,7723,7783,7843,7880,8000,8072,8193,8289,8361,8470,8530,8590,8651,8759,8807,8880,9012,9120,9229,9289,9349,9410,9542,9602,9675,9735];
const a6019=[24,72,120,169,217,289,349,398,494,554,711,759,855,988,1060,1120,1229,1313,1530,1639,1747,1843,1928,2000,2048,2217,2277,2494,2554,2771,2831,2891,2952,3012,3145,3205,3265,3325,3410,3482,3626,3783,3843,3928,3988,4036,4145,4205,4265,4337,4398,4458,4518,4578,4639,4711,4835,4916,4976,5036,5096,5217,5265,5313,5398,5482,5530,5590,5699,5747,5831,5964,6145,6217,6313,6398,6446,6542,6602,6711,6771,6831,6892,6952,7000,7084,7145,7205,7265,7325,7386,7434,7506,7566,7627,7711,7843,7904,7964,8084,8169,8229,8458,8530,8639,8735,8843,8904,8964,9012,9072,9361,9422,9482,9554,9602,9711,9771,9831];
const a6018=[24,120,193,446,542,578,651,771,867,916,964,1048,1169,1217,1265,1313,1373,1446,1506,1578,1675,1723,1807,1964,2012,2084,2201,2297,2398,2482,2590,2663,2711,2911,3012,3060,3108,3217,3265,3325,3373,3422,3482,3530,3614,3663,3711,3759,3819,3916,3964,4048,4169,4482,4530,4590,4639,4795,4855,4952,5012,5120,5253,5482,5602,5663,5747,5880,6133,6193,6386,6458,6542,6627,6723,6783,6892,6952,7012,7084,7193,7253,7313,7398,7458,7506,7578,7699,7855,7976,8229,8265,8349,8506,8663,8723,8783,8843,8904,8964,9024,9157,9217,9277,9398,9530,9687,9735,9847];
const a6017=[12,60,108,205,253,554,590,675,747,799,880,988,1084,1313,1373,1422,1470,1626,2217,2458,2578,2783,3036,3120,3157,3193,3265,3386,3470,3518,3566,3614,3675,3831,3879,3952,4012,4096,4289,4422,4494,4578,4892,4976,5024,5205,5313,5361,5530,5566,5976,6217,6265,6349,6422,6494,6639,6831,6928,6988,7048,7133,7253,7337,7398,7458,7542,7614,7687,7759,7880,7940,8000,8157,8217,8482,8554,8590,8735,8807,8868,8952,9084];
const a6016=[84,217,241,627,663,783,964,1012,1518,1699,1771,1819,2000,2181,2386,2458,2542,2627,2699,2735,2952,3000,3120,3193,3337,3397,3518,3663,3723,3771,3867,3928,4036,4084,4132,4357,4518,4566,4651,4711,4904,5108,5157,5398,5651,5783,5831,5880,5976,6084,6120,6193,6301,6361,6446,6590,6651,6723,6976,7012,7052,7157,7193,7373,7795,7868,7892,8024,8181,8386,8578,8651,8723,8831,8904,8976,9024,9096,9181,9229,9325,9470,9735,9795,9855,9904];
const a6015=[181,361,518,759,916,988,1133,1217,1385,1422,1566,1699,2072,2229,2253,2687,2723,2819,2855,3048,3072,3193,3518,3767,4153,4530,4566,4614,4711,4795,4831,4964,5205,5373,5892,5976,6410,6554,6663,6699,6952,7036,7205,7554,7578,7639,8096,8386,8675,8916,8952,9036,9120,9747,9819];
const a6014=[133,301,398,446,506,735,1000,1036,1108,1181,1253,1385,1446,1723,3000,3133,3181,3289,3578,3783,3867,4000,4349,4928,4952,5627,6012,6241,6277,6325,6916,6976,7012,7205,7289,7482,7602,7831,7904,8482,8602,8627,8880,8928];
const a6013=[1193,1385,2952,3036,3337,3687,3795,3904,3952,4253,4566,4819,4916,4952,5410,5470,6084,6398,6771,7530,8458,8518,8663,9554,9819];
const a6012=[169,627,1253,2024,2554,2843,3651,4337,5217,7133,7675,8157,8880,9313];
const a6011=[108,747,843,892,1241,1385,1892,3313,3807,4422,4759,5373,5675,5855,5964,7108,8627,8916,9639];
const a6010=[398,843,1301,1373,3205,3976,4638,6108,6386,8831,9193];
const a6009=[1518,2145,4422,7410];
const a6008=[8699,9060];
const a6007=[157,3325,4988,8602];
const a6006=[3783,6964];
const a6003=[8867];
const rows=[[6051,a6051],[6050,a6050],[6049,a6049],[6048,a6048],[6047,a6047],[6046,a6046],[6045,a6045],[6044,a6044],[6043,a6043],[6042,a6042],[6041,a6041],[6040,a6040],[6039,a6039],[6038,a6038],[6037,a6037],[6036,a6036],[6035,a6035],[6034,a6034],[6033,a6033],[6032,a6032],[6031,a6031],[6030,a6030],[6029,a6029],[6028,a6028],[6027,a6027],[6026,a6026],[6025,a6025],[6024,a6024],[6023,a6023],[6022,a6022],[6021,a6021],[6020,a6020],[6019,a6019],[6018,a6018],[6017,a6017],[6016,a6016],[6015,a6015],[6014,a6014],[6013,a6013],[6012,a6012],[6011,a6011],[6010,a6010],[6009,a6009],[6008,a6008],[6007,a6007],[6006,a6006],[6003,a6003]];
const points=[];
rows.forEach(([level,xs])=>xs.forEach(x=>points.push([x,level])));
const font='"DejaVu Sans"';
const chart=echarts.init(document.getElementById('c'),null,{renderer:'canvas'});
chart.setOption({
  animation:false,
  backgroundColor:'#fff',
  title:{text:'Run 677, channel015, Pedestal',left:527,top:9,textAlign:'center',textStyle:{fontFamily:font,fontSize:16.67,fontWeight:'normal',color:'#000'}},
  grid:{left:81,right:15,top:35,bottom:59,show:true,borderColor:'#000',borderWidth:1,backgroundColor:'transparent'},
  legend:{show:true,left:771,top:42,orient:'vertical',padding:[6,8,5,6],itemWidth:24,itemHeight:6,
    backgroundColor:'rgba(255,255,255,0.8)',borderColor:'#ccc',borderWidth:1,borderRadius:3,
    data:[{name:'Samples',icon:'circle'}],
    formatter:()=>'{s|Samples}\n{m|μ}{t| = 6028.49, }{i|σ}{t| = 6.38}',
    textStyle:{rich:{
      s:{fontFamily:font,fontSize:13.9,color:'#000',lineHeight:17,padding:[0,0,0,18]},
      m:{fontFamily:font,fontStyle:'italic',fontSize:13.9,color:'#000',lineHeight:17,padding:[0,0,0,18]},
      t:{fontFamily:font,fontSize:13.9,color:'#000',lineHeight:17},
      i:{fontFamily:font,fontStyle:'italic',fontSize:13.9,color:'#000',lineHeight:17}}}},
  xAxis:{type:'value',min:-485,max:10402,name:'Sample #',nameLocation:'middle',nameGap:30,
    nameTextStyle:{fontFamily:font,fontSize:13.9,color:'#000'},
    axisLine:{show:true,onZero:false,lineStyle:{color:'#000',width:1}},
    axisTick:{show:true,length:5,lineStyle:{color:'#000',width:1},customValues:tickX},
    axisLabel:{color:'#000',fontFamily:font,fontSize:13.9,margin:12,customValues:tickX,formatter:v=>String(v)},
    splitLine:{show:true,lineStyle:{color:'#b0b0b0',width:1}}},
  yAxis:{type:'value',min:6000.63,max:6053.46,name:'ADC Counts',nameLocation:'middle',nameGap:49,nameRotate:90,
    nameTextStyle:{fontFamily:font,fontSize:13.9,color:'#000'},
    axisLine:{show:true,onZero:false,lineStyle:{color:'#000',width:1}},
    axisTick:{show:true,length:5,lineStyle:{color:'#000',width:1},customValues:tickY},
    axisLabel:{color:'#000',fontFamily:font,fontSize:13.9,margin:10,customValues:tickY,formatter:v=>String(v)},
    splitLine:{show:true,lineStyle:{color:'#b0b0b0',width:1}}},
  series:[{name:'Samples',type:'scatter',symbol:'circle',symbolSize:5.5,data:points,itemStyle:{color:'#000',opacity:1},silent:true,large:false}]
});
</script>
</body></html>
